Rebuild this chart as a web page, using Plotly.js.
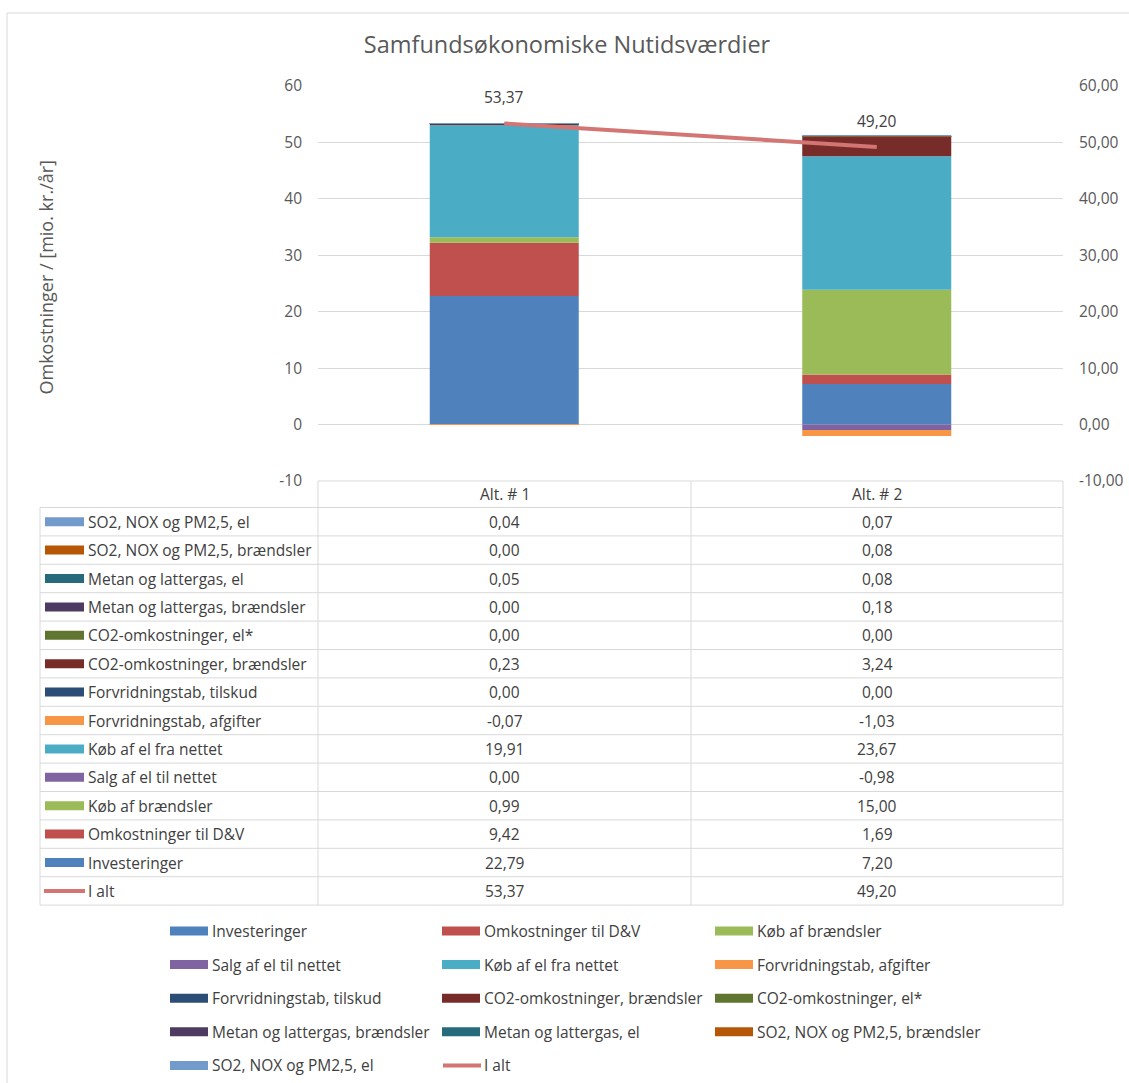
<!DOCTYPE html>
<html>
<head>
<meta charset="utf-8">
<script src="https://cdn.plot.ly/plotly-3.0.1.min.js"></script>
<style>html,body{margin:0;padding:0;background:#fff;}#chart{width:1129px;height:1083px;}</style>
</head>
<body>
<div id="chart"></div>
<script>
// ---------------- DATA ----------------
const categories = ['Alt. # 1', 'Alt. # 2'];
const seriesNames = [
  'Investeringer',
  'Omkostninger til D&V',
  'Køb af brændsler',
  'Salg af el til nettet',
  'Køb af el fra nettet',
  'Forvridningstab, afgifter',
  'Forvridningstab, tilskud',
  'CO2-omkostninger, brændsler',
  'CO2-omkostninger, el*',
  'Metan og lattergas, brændsler',
  'Metan og lattergas, el',
  'SO2, NOX og PM2,5, brændsler',
  'SO2, NOX og PM2,5, el'
];
const alt1Values = [22.79, 9.42, 0.99, 0.00, 19.91, -0.07, 0.00, 0.23, 0.00, 0.00, 0.05, 0.00, 0.04];
const alt2Values = [7.20, 1.69, 15.00, -0.98, 23.67, -1.03, 0.00, 3.24, 0.00, 0.18, 0.08, 0.08, 0.07];
const totalName = 'I alt';
const totalValues = [53.37, 49.20];
const yTickValues = [-10, 0, 10, 20, 30, 40, 50, 60];
const chartTitle = 'Samfundsøkonomiske Nutidsværdier';
const yAxisTitle = 'Omkostninger / [mio. kr./år]';

// ---------------- STYLE ----------------
const seriesColors = ['#4F81BD', '#C0504D', '#9BBB59', '#8064A2', '#4BACC6', '#F79646',
  '#2C4D75', '#772C2A', '#5F7530', '#4D3B62', '#276A7C', '#B65708', '#729ACA'];
const totalColor = '#D37572';
const FONT = '"Open Sans", Lato, "Liberation Sans", sans-serif';
const W = 1129, H = 1083;
const PL = 318, PR = 1063, PT = 86, PB = 481;
const PW = PR - PL, PH = PB - PT;
const px = v => (v - PL) / PW;
const py = v => (PB - v) / PH;
const fmt = v => v.toFixed(2).replace('.', ',');
const gridColor = '#D9D9D9';
const txtColor = '#404040';
const axColor = '#595959';
const TXT = 15.5;

// ---------------- TRACES ----------------
const traces = seriesNames.map((name, i) => ({
  type: 'bar', name: name, x: categories, y: [alt1Values[i], alt2Values[i]],
  marker: {color: seriesColors[i], line: {width: 0}}, showlegend: false, hoverinfo: 'name+y'
}));
traces.push({
  type: 'scatter', mode: 'lines', name: totalName, x: categories, y: totalValues, yaxis: 'y2',
  line: {color: totalColor, width: 4}, showlegend: false
});

// ---------------- TABLE + LEGEND ----------------
const shapes = [];
const annotations = [];
const line = (x0, y0, x1, y1, color, width) => shapes.push({type: 'line', xref: 'paper', yref: 'paper',
  x0: px(x0), y0: py(y0), x1: px(x1), y1: py(y1), line: {color: color || gridColor, width: width || 1}});
const rect = (x0, y0, x1, y1, color) => shapes.push({type: 'rect', xref: 'paper', yref: 'paper',
  x0: px(x0), y0: py(y0), x1: px(x1), y1: py(y1), fillcolor: color, line: {width: 0}});
const text = (x, y, t, anchor, opts) => annotations.push(Object.assign({xref: 'paper', yref: 'paper',
  x: px(x), y: py(y), text: t, showarrow: false, xanchor: anchor || 'left', yanchor: 'middle',
  font: {family: FONT, size: TXT, color: txtColor}}, opts || {}));

// outer border
shapes.push({type: 'rect', xref: 'paper', yref: 'paper', x0: px(7), y0: py(13), x1: px(1140), y1: py(1100),
  line: {color: gridColor, width: 1}, fillcolor: 'rgba(0,0,0,0)'});

const colX = [40, 318, 691, 1063];
const headTop = 481, headBot = 507.5, rowH = 28.4;
const rowOrder = seriesNames.map((n, i) => i).reverse();
const nRows = rowOrder.length + 1;
const tableBot = headBot + nRows * rowH;
// header
line(colX[1], headTop, colX[3], headTop);
line(colX[1], headTop, colX[1], tableBot);
line(colX[2], headTop, colX[2], tableBot);
line(colX[3], headTop, colX[3], tableBot);
line(colX[0], headBot, colX[0], tableBot);
categories.forEach((c, j) => text((colX[j + 1] + colX[j + 2]) / 2, (headTop + headBot) / 2, c, 'center'));
for (let r = 0; r <= nRows; r++) line(colX[0], headBot + r * rowH, colX[3], headBot + r * rowH);
rowOrder.forEach((i, r) => {
  const cy = headBot + (r + 0.5) * rowH;
  rect(45, cy - 4.5, 84, cy + 4.5, seriesColors[i]);
  text(86, cy, seriesNames[i], 'left');
  text((colX[1] + colX[2]) / 2, cy, fmt(alt1Values[i]), 'center');
  text((colX[2] + colX[3]) / 2, cy, fmt(alt2Values[i]), 'center');
});
{
  const cy = headBot + (nRows - 0.5) * rowH;
  shapes.push({type: 'line', xref: 'paper', yref: 'paper', x0: px(44), y0: py(cy), x1: px(85), y1: py(cy),
    line: {color: totalColor, width: 4}});
  text(86, cy, totalName, 'left');
  text((colX[1] + colX[2]) / 2, cy, fmt(totalValues[0]), 'center');
  text((colX[2] + colX[3]) / 2, cy, fmt(totalValues[1]), 'center');
}

// legend
const legCols = [170, 442, 715];
const legTop = 931, legRowH = 33.6;
const legendItems = seriesNames.map((n, i) => ({name: n, color: seriesColors[i], kind: 'bar'}));
legendItems.push({name: totalName, color: totalColor, kind: 'line'});
legendItems.forEach((it, k) => {
  const x = legCols[k % 3], cy = legTop + Math.floor(k / 3) * legRowH;
  if (it.kind === 'bar') rect(x, cy - 4.5, x + 38, cy + 4.5, it.color);
  else shapes.push({type: 'line', xref: 'paper', yref: 'paper', x0: px(x + 1), y0: py(cy), x1: px(x + 39), y1: py(cy),
    line: {color: it.color, width: 4}});
  text(x + 40, cy, it.name, 'left');
});

// data labels for total
categories.forEach((c, j) => annotations.push({xref: 'x', yref: 'y', x: c, y: totalValues[j], yshift: 26,
  text: fmt(totalValues[j]), showarrow: false, xanchor: 'center', yanchor: 'middle',
  font: {family: FONT, size: TXT, color: txtColor}}));

// y axis title
text(45, (PT + PB) / 2 - 6, yAxisTitle, 'center', {textangle: -90, font: {family: FONT, size: 18, color: axColor}});

// ---------------- LAYOUT ----------------
const layout = {
  width: W, height: H,
  margin: {l: PL, r: W - PR, t: PT, b: H - PB, pad: 0},
  paper_bgcolor: '#fff', plot_bgcolor: '#fff',
  separators: ',.',
  barmode: 'relative', bargap: 0.6,
  showlegend: false,
  title: {text: chartTitle, x: 567 / W, xanchor: 'center', y: 1 - 45 / H, yanchor: 'middle',
    font: {family: FONT, size: 23.5, color: axColor}},
  xaxis: {type: 'category', showticklabels: false, showgrid: false, zeroline: false, showline: false, ticks: '',
    range: [-0.5, 1.5], fixedrange: true},
  yaxis: {range: [-10, 60], tickvals: yTickValues, ticktext: yTickValues.map(v => String(v)),
    showgrid: true, gridcolor: gridColor, gridwidth: 1, zeroline: false, showline: false, ticks: '',
    ticklabelstandoff: 15, tickfont: {family: FONT, size: 15.5, color: axColor}, fixedrange: true},
  yaxis2: {range: [-10, 60], overlaying: 'y', side: 'right', tickvals: yTickValues,
    ticktext: yTickValues.map(v => fmt(v)), showgrid: false, zeroline: false, showline: false, ticks: '',
    ticklabelstandoff: 15, tickfont: {family: FONT, size: 15.5, color: axColor}, fixedrange: true},
  shapes: shapes,
  annotations: annotations,
  font: {family: FONT, color: txtColor}
};

Plotly.newPlot('chart', traces, layout, {displayModeBar: false, responsive: false});
</script>
</body>
</html>
